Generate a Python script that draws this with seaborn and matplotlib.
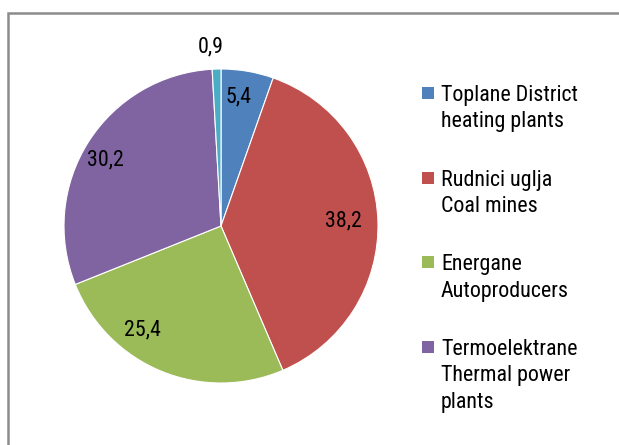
import matplotlib
matplotlib.use("Agg")
import matplotlib.pyplot as plt
import seaborn as sns
from matplotlib.patches import Rectangle

# ---- data ----
categories = ["Toplane District\nheating plants",
              "Rudnici uglja\nCoal mines",
              "Energane\nAutoproducers",
              "Termoelektrane\nThermal power\nplants",
              ""]
values = [5.4, 38.2, 25.4, 30.2, 0.9]
value_labels = ["5,4", "38,2", "25,4", "30,2", "0,9"]
colors_hex = ["#4F81BD", "#C0504D", "#9BBB59", "#8064A2", "#4BACC6"]

sns.set_theme(style="white")
plt.rcParams['font.family'] = ['Roboto Condensed', 'Liberation Sans', 'DejaVu Sans']
palette = sns.color_palette(colors_hex)

W, H = 619, 445
fig = plt.figure(figsize=(W / 100, H / 100), dpi=100)
fig.patch.set_facecolor("white")

# outer frame (extends beyond image right/bottom)
fig.patches.append(Rectangle((8 / W, -0.1), 1.2, (H - 13) / H + 0.1,
                             transform=fig.transFigure, fill=False,
                             edgecolor="#8c8c8c", linewidth=1.8))

cx, cy, R = 221, 226, 157
ax = fig.add_axes([(cx - R) / W, (H - cy - R) / H, 2 * R / W, 2 * R / H])
FS = 15.8
wedges, texts = ax.pie(values, colors=palette, startangle=90, counterclock=False,
                       labels=value_labels, labeldistance=0.82,
                       wedgeprops=dict(edgecolor="white", linewidth=0.8),
                       textprops=dict(fontsize=FS, color="black",
                                      ha="center", va="center"))
ax.set_xlim(-1, 1)
ax.set_ylim(-1, 1)

# label placement (Excel best-fit style)
label_px = [(238, 97), (343, 221), (142, 330), (105, 160), (211, 47)]
for t, (px, py) in zip(texts, label_px):
    t.set_position(((px - cx) / R, (cy - py) / R))
    t.set_ha("center")
    t.set_va("center")

# legend (manual, first line aligned with square)
first_baselines = [101, 186, 270, 355]
line_gap = 26.5
for i, (lab, col) in enumerate(zip(categories[:4], palette[:4])):
    b = first_baselines[i]
    fig.patches.append(Rectangle((422 / W, (H - b + 2) / H), 12 / W, 12 / H,
                                 transform=fig.transFigure, facecolor=col,
                                 edgecolor="none"))
    for j, line in enumerate(lab.split("\n")):
        fig.text(441 / W, (H - (b + j * line_gap)) / H, line, fontsize=FS,
                 ha="left", va="baseline", color="black")

fig.savefig("out.png", dpi=100, facecolor="white")
